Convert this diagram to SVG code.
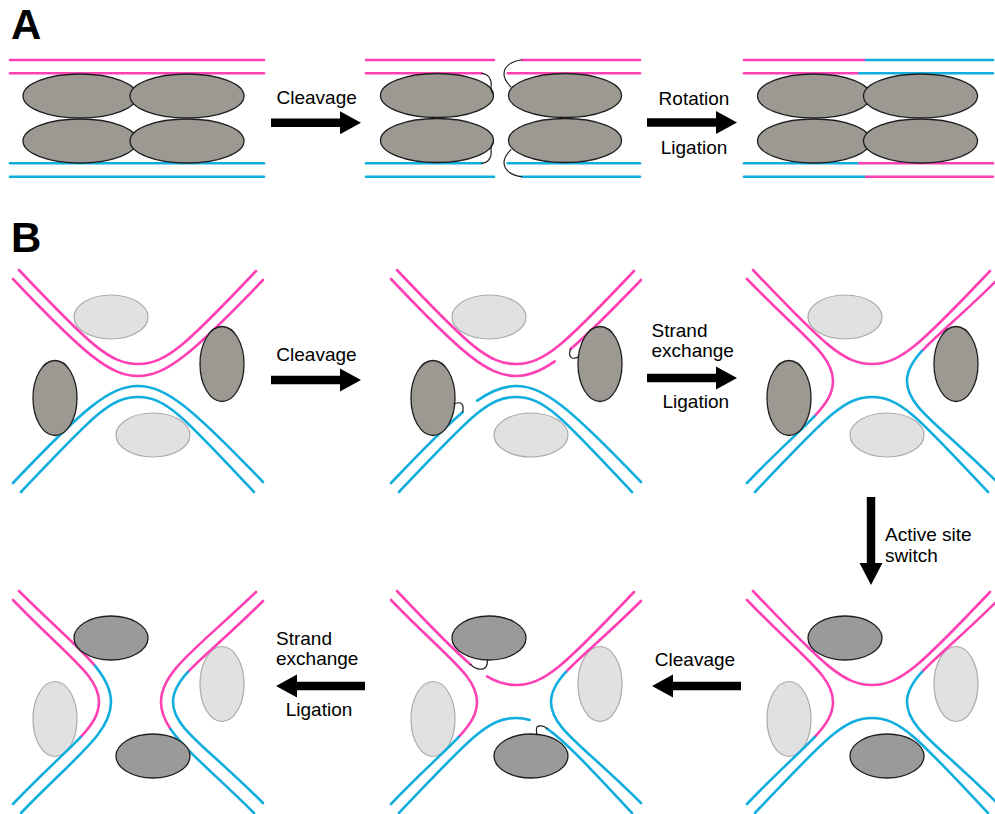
<svg xmlns="http://www.w3.org/2000/svg" xmlns:xlink="http://www.w3.org/1999/xlink" width="995" height="814" viewBox="0 0 995 814">
  <style>
    .pk{fill:none;stroke:#ff3fb4;stroke-width:2.6;stroke-linecap:round}
    .bl{fill:none;stroke:#10aede;stroke-width:2.6;stroke-linecap:round}
    .dk{fill:#9c9993;stroke:#1e1e1e;stroke-width:1.3}
    .dk2{fill:#9a9a9a;stroke:#1e1e1e;stroke-width:1.3}
    .lt{fill:#e1e1e1;stroke:#aaaaaa;stroke-width:1.2}
    .hk{fill:none;stroke:#1e1e1e;stroke-width:1.2;stroke-linecap:round}
    .lbl{font-family:"Liberation Sans",Arial,sans-serif;font-size:19px;fill:#000}
    .mid{text-anchor:middle}
    .pl{font-family:"Liberation Sans",Arial,sans-serif;font-weight:bold;font-size:42px;fill:#000}
    .arr{fill:#000}
  </style>
  <defs>
    <!-- DNA duplex strands of a synaptic complex, local coordinates -->
    <path id="p1" class="pk" d="M19,270 C90,345 110,364 138,364 C166,364 186,345 256,271"/>
    <path id="p2" class="pk" d="M13,279 C84,354 110,376 138,376 C166,376 192,354 263,280"/>
    <path id="b1" class="bl" d="M13,483 C84,408 110,386 138,386 C166,386 192,408 263,482"/>
    <path id="b2" class="bl" d="M21,492 C92,417 110,397 138,397 C166,397 184,417 254,492"/>
    <!-- recombined inner strands -->
    <g id="xl">
      <path class="pk" d="M13,279 C70,338 99,355 99,381 C99,392.96 92.86,403.02 80.59,416.13"/>
      <path class="bl" d="M80.59,416.13 C66.18,431.53 43.32,451.14 13,483"/>
    </g>
    <g id="xr">
      <path class="pk" d="M263,280 C228.2,314.8 202.76,334.84 187.98,350.92"/>
      <path class="bl" d="M187.98,350.92 C178.12,361.64 173,370.6 173,381 C173,407 205,424 263,482"/>
    </g>
  </defs>

  <!-- panel labels -->
  <text class="pl" x="11" y="38.5">A</text>
  <text class="pl" x="11" y="252">B</text>

  <!-- A: starting complex -->
  <g id="a-start">
    <line class="pk" x1="10" y1="60" x2="264" y2="60"/>
    <line class="pk" x1="10" y1="73.3" x2="264" y2="73.3"/>
    <line class="bl" x1="10" y1="163.3" x2="264" y2="163.3"/>
    <line class="bl" x1="10" y1="176.7" x2="264" y2="176.7"/>
    <ellipse class="dk" cx="80" cy="96" rx="57" ry="22"/>
    <ellipse class="dk" cx="187" cy="96" rx="57" ry="22"/>
    <ellipse class="dk" cx="80" cy="141" rx="57" ry="22"/>
    <ellipse class="dk" cx="187" cy="141" rx="57" ry="22"/>
  </g>

  <!-- A: cleaved complex -->
  <g id="a-cleaved">
    <line class="pk" x1="366" y1="60" x2="494" y2="60"/>
    <line class="pk" x1="522" y1="60" x2="640" y2="60"/>
    <line class="pk" x1="366" y1="73.3" x2="481.7" y2="73.3"/>
    <line class="pk" x1="507.7" y1="73.3" x2="640" y2="73.3"/>
    <line class="bl" x1="366" y1="163.3" x2="481.7" y2="163.3"/>
    <line class="bl" x1="507.7" y1="163.3" x2="640" y2="163.3"/>
    <line class="bl" x1="366" y1="176.7" x2="494" y2="176.7"/>
    <line class="bl" x1="522" y1="176.7" x2="640" y2="176.7"/>
    <ellipse class="dk" cx="437" cy="95.5" rx="56.5" ry="22"/>
    <ellipse class="dk" cx="565" cy="95.5" rx="56.5" ry="22"/>
    <ellipse class="dk" cx="437" cy="140.5" rx="56.5" ry="22"/>
    <ellipse class="dk" cx="565" cy="140.5" rx="56.5" ry="22"/>
    <path class="hk" d="M481.7,73.3 C489,74 492,80 491,87 C490.7,90 491.7,92 493,94"/>
    <path class="hk" d="M521.7,60 C512,61 504,66 504,74 C504,79 507,83 511,87"/>
    <path class="hk" d="M481.7,163.3 C489,162.6 492,156.6 491,149.6 C490.7,146.6 491.7,144.6 493,142.6"/>
    <path class="hk" d="M521.7,176.6 C512,175.6 504,170.6 504,162.6 C504,157.6 507,153.6 511,149.6"/>
  </g>

  <!-- A: rotated and religated complex -->
  <g id="a-ligated">
    <line class="pk" x1="744" y1="60" x2="866" y2="60"/>
    <line class="bl" x1="866" y1="60" x2="993" y2="60"/>
    <line class="pk" x1="744" y1="73.3" x2="859.3" y2="73.3"/>
    <line class="bl" x1="859.3" y1="73.3" x2="993" y2="73.3"/>
    <line class="bl" x1="744" y1="163.3" x2="859.3" y2="163.3"/>
    <line class="pk" x1="859.3" y1="163.3" x2="993" y2="163.3"/>
    <line class="bl" x1="744" y1="176.7" x2="866" y2="176.7"/>
    <line class="pk" x1="866" y1="176.7" x2="993" y2="176.7"/>
    <ellipse class="dk" cx="814" cy="96" rx="56.5" ry="22"/>
    <ellipse class="dk" cx="920.5" cy="96" rx="57" ry="22"/>
    <ellipse class="dk" cx="814" cy="141" rx="56.5" ry="22"/>
    <ellipse class="dk" cx="920.5" cy="141" rx="57" ry="22"/>
  </g>

  <!-- B: synapse, left/right subunits active -->
  <g id="b-synapse">
    <ellipse class="lt" cx="111" cy="317" rx="37" ry="22"/>
    <ellipse class="lt" cx="153" cy="435" rx="37" ry="22"/>
    <use xlink:href="#p1"/><use xlink:href="#p2"/>
    <use xlink:href="#b1"/><use xlink:href="#b2"/>
    <ellipse class="dk" cx="55" cy="398" rx="22" ry="37.5"/>
    <ellipse class="dk" cx="222" cy="364" rx="22" ry="37.5"/>
  </g>

  <!-- B: first pair of strands cleaved -->
  <g id="b-cleaved1" transform="translate(378,0)">
    <ellipse class="lt" cx="111" cy="317" rx="37" ry="22"/>
    <ellipse class="lt" cx="153" cy="435" rx="37" ry="22"/>
    <use xlink:href="#p1"/><use xlink:href="#b2"/>
    <path class="pk" d="M13,279 C84,354 110,376 138,376 C150.04,376 161.71,371.93 176.75,361.41"/>
    <path class="pk" d="M192.63,349 C210.26,334.03 232.47,311.82 263,280"/>
    <path class="bl" d="M13,483 C44.24,450 66.77,427.26 84.59,412.14"/>
    <path class="bl" d="M99.25,400.67 C114.29,390.07 125.96,386 138,386 C166,386 192,408 263,482"/>
    <ellipse class="dk" cx="55" cy="398" rx="22" ry="37.5"/>
    <ellipse class="dk" cx="222" cy="364" rx="22" ry="37.5"/>
    <path class="hk" d="M192.6,349 C191,353 191,357 194,358 C196,358.5 198.5,358 200.4,357"/>
    <path class="hk" d="M84.6,412.1 C85.5,408 85,404 82.5,403 C80.5,402.3 78.5,403 76.2,403.5"/>
  </g>

  <!-- B: Holliday junction after first exchange -->
  <g id="b-hj1" transform="translate(734,0)">
    <ellipse class="lt" cx="111" cy="317" rx="37" ry="22"/>
    <ellipse class="lt" cx="153" cy="435" rx="37" ry="22"/>
    <use xlink:href="#p1"/><use xlink:href="#b2"/>
    <use xlink:href="#xl"/><use xlink:href="#xr"/>
    <ellipse class="dk" cx="55" cy="398" rx="22" ry="37.5"/>
    <ellipse class="dk" cx="222" cy="364" rx="22" ry="37.5"/>
  </g>

  <!-- B: Holliday junction, top/bottom subunits active -->
  <g id="b-hj2" transform="translate(734,321)">
    <ellipse class="lt" cx="55" cy="398" rx="22" ry="37.5"/>
    <ellipse class="lt" cx="222" cy="363" rx="22" ry="37.5"/>
    <use xlink:href="#p1"/><use xlink:href="#b2"/>
    <use xlink:href="#xl"/><use xlink:href="#xr"/>
    <ellipse class="dk2" cx="111" cy="317" rx="37" ry="22"/>
    <ellipse class="dk2" cx="153" cy="435" rx="37" ry="22"/>
  </g>

  <!-- B: second pair of strands cleaved -->
  <g id="b-cleaved2" transform="translate(378,321)">
    <ellipse class="lt" cx="55" cy="398" rx="22" ry="37.5"/>
    <ellipse class="lt" cx="222" cy="363" rx="22" ry="37.5"/>
    <use xlink:href="#xl"/><use xlink:href="#xr"/>
    <path class="pk" d="M19,270 C53.08,306 75.41,329.1 92.51,343.38"/>
    <path class="pk" d="M109.01,355.43 C119.38,361.67 128.2,364 138,364 C166,364 186,345 256,271"/>
    <path class="bl" d="M21,492 C92,417 110,397 138,397 C142.76,397 147.23,397.58 151.72,398.91"/>
    <path class="bl" d="M168.99,407.59 C187.19,420.14 210.6,445.5 254,492"/>
    <ellipse class="dk2" cx="111" cy="317" rx="37" ry="22"/>
    <ellipse class="dk2" cx="153" cy="435" rx="37" ry="22"/>
    <path class="hk" d="M92.5,343.4 C96,347.5 104,350 107.5,346.5 C109,345 109.5,342 109.3,339"/>
    <path class="hk" d="M169,407.6 C166,404.5 161,404 159,406 C158,407.5 158.5,410.5 158.7,413.6"/>
  </g>

  <!-- B: recombinant products -->
  <g id="b-products" transform="translate(0,321)">
    <ellipse class="lt" cx="55" cy="398" rx="22" ry="37.5"/>
    <ellipse class="lt" cx="222" cy="363" rx="22" ry="37.5"/>
    <use xlink:href="#xl"/><use xlink:href="#xr"/>
    <path class="pk" d="M19,270 C53.2,304.2 79.48,326.16 95.03,344.95"/>
    <path class="bl" d="M95.03,344.95 C105.4,357.48 111,368.6 111,381 C111,412 76,435 21,492"/>
    <path class="pk" d="M256,271 C199,326 161,350 161,381 C161,390.3 164.42,399.06 170.69,408.25"/>
    <path class="bl" d="M170.69,408.25 C185.33,429.7 215.5,453.5 254,492"/>
    <ellipse class="dk2" cx="111" cy="317" rx="37" ry="22"/>
    <ellipse class="dk2" cx="153" cy="435" rx="37" ry="22"/>
  </g>

  <!-- reaction arrows -->
  <g id="connectors">
    <path class="arr" d="M271,118.5 H340 V111.2 L361,122.7 L340,134.2 V126.9 H271 Z"/>
    <path class="arr" d="M647,118.3 H716 V111 L737,122.5 L716,134 V126.7 H647 Z"/>
    <path class="arr" d="M271,375.8 H340 V368.5 L361,380 L340,391.5 V384.2 H271 Z"/>
    <path class="arr" d="M647,373.8 H716 V366.5 L737,378 L716,389.5 V382.2 H647 Z"/>
    <path class="arr" d="M866.8,497 V563 H859.5 L871,585 L882.5,563 H875.2 V497 Z"/>
    <path class="arr" d="M741,681.8 H673 V674.5 L652,686 L673,697.5 V690.2 H741 Z"/>
    <path class="arr" d="M365,681.8 H297 V674.5 L276,686 L297,697.5 V690.2 H365 Z"/>
  </g>

  <!-- arrow labels -->
  <g id="labels">
    <text class="lbl mid" x="316.7" y="103.5">Cleavage</text>
    <text class="lbl mid" x="694" y="105">Rotation</text>
    <text class="lbl mid" x="694" y="154">Ligation</text>
    <text class="lbl mid" x="316.5" y="361">Cleavage</text>
    <text class="lbl" x="651.5" y="336.7">Strand</text>
    <text class="lbl" x="651.5" y="356.7">exchange</text>
    <text class="lbl mid" x="695.8" y="408.3">Ligation</text>
    <text class="lbl" x="885" y="541">Active site</text>
    <text class="lbl" x="885" y="562">switch</text>
    <text class="lbl mid" x="695" y="666">Cleavage</text>
    <text class="lbl" x="276" y="645">Strand</text>
    <text class="lbl" x="276" y="665">exchange</text>
    <text class="lbl mid" x="319" y="716">Ligation</text>
  </g>
</svg>
